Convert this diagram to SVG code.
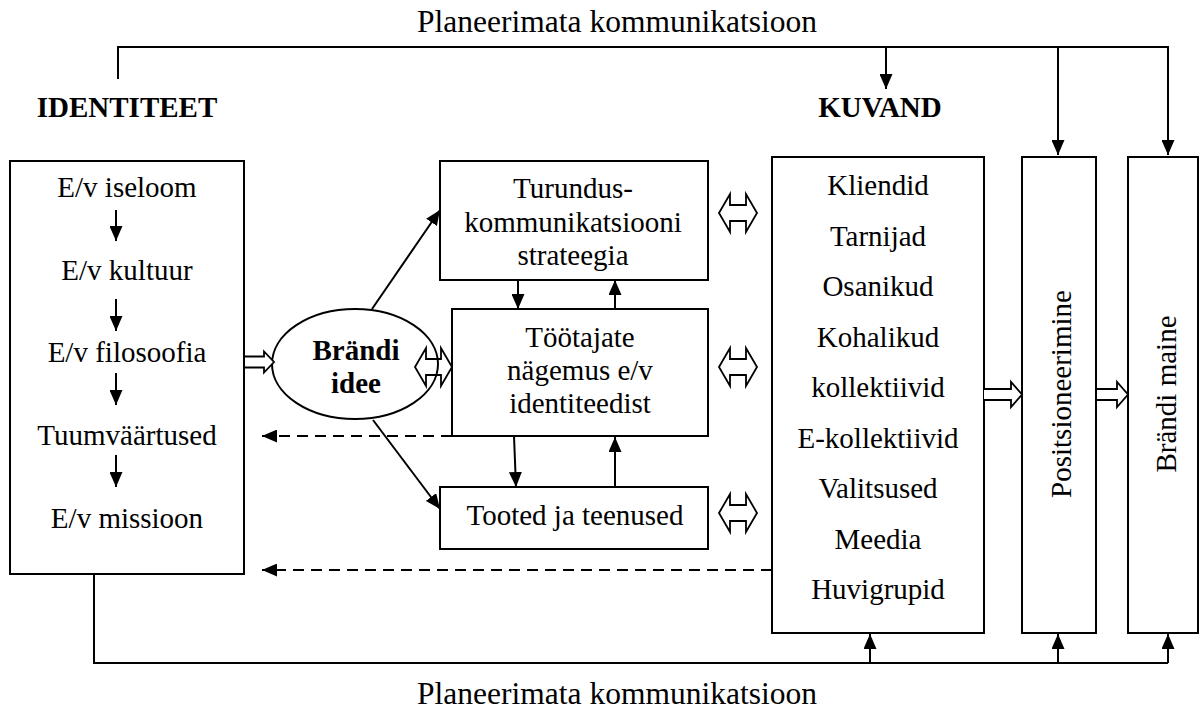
<svg xmlns="http://www.w3.org/2000/svg" width="1201" height="713" viewBox="0 0 1201 713">
<style>
text{font-family:"Liberation Serif","Times New Roman",Tinos,"DejaVu Serif",serif;font-size:29px;font-weight:normal;fill:#000;text-anchor:middle}
.big{font-size:31.5px}
.b{font-weight:bold}
.box{fill:#fff;stroke:#000;stroke-width:2}
.ln{fill:none;stroke:#000;stroke-width:2}
.dash{fill:none;stroke:#000;stroke-width:2;stroke-dasharray:11 7}
.hol{fill:#fff;stroke:#000;stroke-width:1.8;stroke-linejoin:miter}
.holn{fill:none;stroke:#000;stroke-width:1.8}
</style>
<defs>
<marker id="ah" markerUnits="userSpaceOnUse" markerWidth="15" markerHeight="13" refX="15" refY="6.5" orient="auto">
<path d="M0,0 L15,6.5 L0,13 Z" fill="#000"/>
</marker>
</defs>

<text class="big" x="617" y="32">Planeerimata kommunikatsioon</text>
<text class="big" x="617" y="704">Planeerimata kommunikatsioon</text>
<text class="b" x="127" y="117">IDENTITEET</text>
<text class="b" x="880" y="117">KUVAND</text>

<g id="identiteet">
<rect class="box" x="10" y="161" width="234" height="413"/>
<text x="127" y="197">E/v iseloom</text>
<text x="127" y="280">E/v kultuur</text>
<text x="127" y="362">E/v filosoofia</text>
<text x="127" y="445">Tuumväärtused</text>
<text x="127" y="528">E/v missioon</text>
</g>

<g id="brandi-idee">
<ellipse class="box" cx="355" cy="364" rx="83" ry="55"/>
<text class="b" x="356" y="360">Brändi</text>
<text class="b" x="356" y="393">idee</text>
</g>

<g id="turundus">
<rect class="box" x="440" y="161" width="268" height="119"/>
<text x="573" y="198">Turundus-</text>
<text x="573" y="232">kommunikatsiooni</text>
<text x="573" y="265">strateegia</text>
</g>

<g id="tootajate">
<rect class="box" x="452" y="309" width="256" height="127"/>
<text x="580" y="347">Töötajate</text>
<text x="580" y="380">nägemus e/v</text>
<text x="580" y="413">identiteedist</text>
</g>

<g id="tooted">
<rect class="box" x="440" y="487" width="268" height="62"/>
<text x="575" y="525">Tooted ja teenused</text>
</g>

<g id="kuvand">
<rect class="box" x="772" y="157" width="212" height="476"/>
<text x="878" y="195">Kliendid</text>
<text x="878" y="245.5">Tarnijad</text>
<text x="878" y="296">Osanikud</text>
<text x="878" y="346.5">Kohalikud</text>
<text x="878" y="397">kollektiivid</text>
<text x="878" y="447.5">E-kollektiivid</text>
<text x="878" y="498">Valitsused</text>
<text x="878" y="548.5">Meedia</text>
<text x="878" y="599">Huvigrupid</text>
</g>

<g id="positsioneerimine">
<rect class="box" x="1022" y="157" width="74" height="476"/>
<text transform="translate(1071,394) rotate(-90)" x="0" y="0">Positsioneerimine</text>
</g>

<g id="brandi-maine">
<rect class="box" x="1128" y="157" width="70" height="476"/>
<text transform="translate(1176,394) rotate(-90)" x="0" y="0">Brändi maine</text>
</g>

<g id="connectors">
<path class="ln" d="M118,79 V47 H1168 V155"/>
<line class="ln" x1="886" y1="47" x2="886" y2="89" marker-end="url(#ah)"/>
<line class="ln" x1="1058" y1="47" x2="1058" y2="155" marker-end="url(#ah)"/>
<line class="ln" x1="1168" y1="140" x2="1168" y2="155" marker-end="url(#ah)"/>
<path class="ln" d="M94,574 V663 H1168"/>
<line class="ln" x1="870" y1="663" x2="870" y2="634" marker-end="url(#ah)"/>
<line class="ln" x1="1058" y1="663" x2="1058" y2="634" marker-end="url(#ah)"/>
<line class="ln" x1="1168" y1="663" x2="1168" y2="634" marker-end="url(#ah)"/>
<line class="ln" x1="116" y1="210" x2="116" y2="241" marker-end="url(#ah)"/>
<line class="ln" x1="116" y1="299" x2="116" y2="331" marker-end="url(#ah)"/>
<line class="ln" x1="116" y1="373" x2="116" y2="405" marker-end="url(#ah)"/>
<line class="ln" x1="116" y1="455" x2="116" y2="487" marker-end="url(#ah)"/>
<line class="ln" x1="372" y1="309" x2="440" y2="210" marker-end="url(#ah)"/>
<line class="ln" x1="373" y1="420" x2="440" y2="509" marker-end="url(#ah)"/>
<line class="ln" x1="518" y1="280" x2="518" y2="309" marker-end="url(#ah)"/>
<line class="ln" x1="615" y1="309" x2="615" y2="280" marker-end="url(#ah)"/>
<line class="ln" x1="514" y1="436" x2="516" y2="487" marker-end="url(#ah)"/>
<line class="ln" x1="615" y1="487" x2="615" y2="437" marker-end="url(#ah)"/>
<line class="dash" x1="452" y1="436" x2="262" y2="436" marker-end="url(#ah)"/>
<line class="dash" x1="772" y1="570" x2="262" y2="570" marker-end="url(#ah)"/>
<path class="hol" d="M245,356.5 H264 V351.5 L274,362 L264,372.5 V367.5 H245"/>
<path class="hol" d="M984,389 H1011 V382 L1022,394.5 L1011,407 V400 H984"/>
<path class="hol" d="M1097,389 H1117 V382 L1128,394.5 L1117,407 V400 H1097"/>
<path class="holn" d="M415,367 L426,348 V359 H441 V348 L452,367 L441,386 V375 H426 V386 Z"/>
<path class="hol" d="M719,213 L730,194 V205 H746 V194 L757,213 L746,232 V221 H730 V232 Z"/>
<path class="hol" d="M719,367 L730,348 V359 H746 V348 L757,367 L746,386 V375 H730 V386 Z"/>
<path class="hol" d="M719,513 L730,494 V505 H746 V494 L757,513 L746,532 V521 H730 V532 Z"/>
</g>
</svg>
